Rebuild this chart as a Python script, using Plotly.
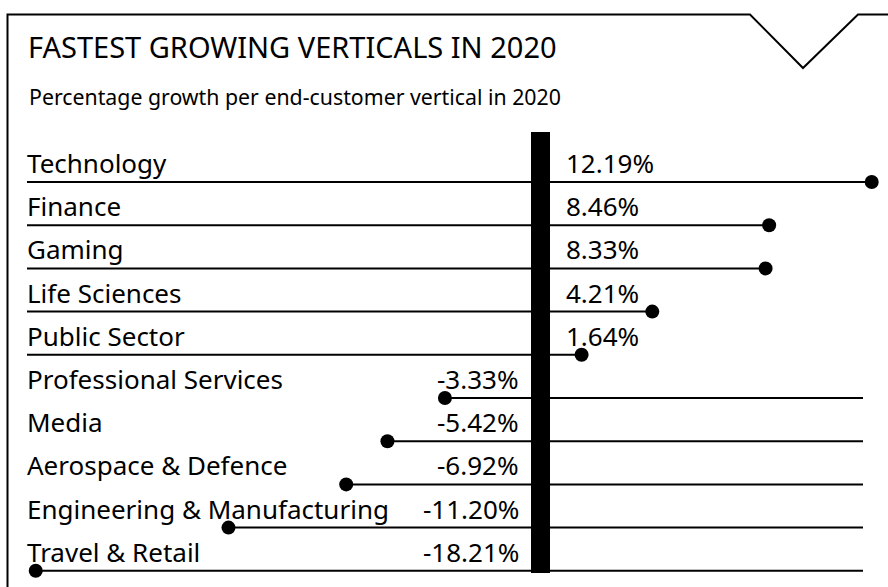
import plotly.graph_objects as go

# Growth per end-customer vertical, 2020 (%)
categories = [
    "Technology", "Finance", "Gaming", "Life Sciences", "Public Sector",
    "Professional Services", "Media", "Aerospace & Defence",
    "Engineering & Manufacturing", "Travel & Retail",
]
growth = [12.19, 8.46, 8.33, 4.21, 1.64, -3.33, -5.42, -6.92, -11.20, -18.21]
value_labels = ["12.19%", "8.46%", "8.33%", "4.21%", "1.64%",
                "-3.33%", "-5.42%", "-6.92%", "-11.20%", "-18.21%"]

title = "FASTEST GROWING VERTICALS IN 2020"
subtitle = "Percentage growth per end-customer vertical in 2020"

# ---- layout geometry (pixels) ----
W, H = 888, 587
ZERO_PX = 536.5          # where 0 % sits horizontally
PX_PER_PCT = 27.5        # horizontal scale
ROW0_PX = 182.0          # y of the first row's rule
ROW_STEP = 43.2          # spacing between rows
RULE_LEFT_PX = 27.0
RULE_RIGHT_PX = 863.0
FONT = "Noto Sans"
INK = "#000000"

x_range = [-ZERO_PX / PX_PER_PCT, (W - ZERO_PX) / PX_PER_PCT]
y_range = [(H - ROW0_PX) / ROW_STEP, -ROW0_PX / ROW_STEP]
left_edge = (RULE_LEFT_PX - ZERO_PX) / PX_PER_PCT
right_edge = (RULE_RIGHT_PX - ZERO_PX) / PX_PER_PCT

fig = go.Figure()

# rules: positive rows run from the left edge to the dot, negative rows
# run from the dot to the right edge
for i, v in enumerate(growth):
    edge = left_edge if v >= 0 else right_edge
    fig.add_trace(go.Scatter(
        x=[edge, v], y=[i, i], mode="lines",
        line=dict(color=INK, width=2), hoverinfo="skip", showlegend=False,
    ))

fig.add_trace(go.Scatter(
    x=growth, y=list(range(len(growth))), mode="markers",
    marker=dict(color=INK, size=14, line=dict(width=0)),
    text=categories, hovertemplate="%{text}: %{x:.2f}%<extra></extra>",
    showlegend=False,
))

# invisible anchor for the pixel-space overlay axes
fig.add_trace(go.Scatter(x=[0], y=[0], xaxis="x2", yaxis="y2", mode="markers",
                         marker=dict(opacity=0), hoverinfo="skip", showlegend=False))

annotations = []


def px_text(x, y, text, size, xanchor="left"):
    annotations.append(dict(
        x=x, y=y, xref="x2", yref="y2", text=text, showarrow=False,
        xanchor=xanchor, yanchor="middle",
        font=dict(family=FONT, size=size, color=INK),
    ))


px_text(26, 46.5, title, 29)
px_text(27, 96.5, subtitle, 21.3)

for i, (cat, lab, v) in enumerate(zip(categories, value_labels, growth)):
    rule_y = ROW0_PX + ROW_STEP * i
    ty = rule_y - 19
    px_text(25, ty, cat, 26)
    if v >= 0:
        px_text(564, ty, lab, 26, "left")
    else:
        px_text(521, ty, lab, 26, "right")

shapes = [
    # frame with the notch at the top right
    dict(type="path", xref="x2", yref="y2",
         path="M 7.5 590 L 7.5 14.5 L 750 14.5 L 803 68 L 858 14.5 L 890 14.5",
         line=dict(color=INK, width=2)),
    # zero bar
    dict(type="rect", xref="x2", yref="y2", x0=531, x1=550, y0=132, y1=573,
         fillcolor=INK, line=dict(width=0), layer="above"),
]

fig.update_layout(
    width=W, height=H,
    margin=dict(l=0, r=0, t=0, b=0),
    paper_bgcolor="white", plot_bgcolor="white",
    xaxis=dict(range=x_range, visible=False, fixedrange=True),
    yaxis=dict(range=y_range, visible=False, fixedrange=True),
    xaxis2=dict(range=[0, W], visible=False, overlaying="x", anchor="y2", fixedrange=True),
    yaxis2=dict(range=[H, 0], visible=False, overlaying="y", anchor="x2", fixedrange=True),
    annotations=annotations,
    shapes=shapes,
    showlegend=False,
)

fig.write_html("out.html", config={"displayModeBar": False})
